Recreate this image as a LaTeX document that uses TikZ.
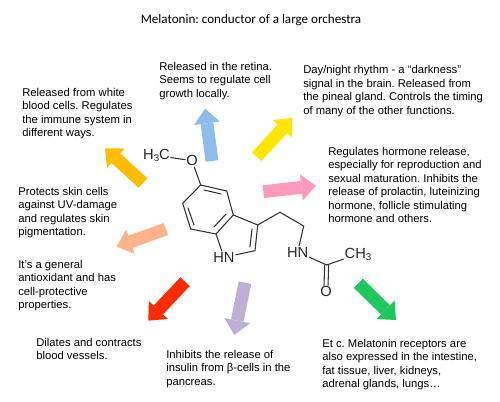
\documentclass[tikz,border=0pt]{standalone}
\usepackage{fontspec}
\usetikzlibrary{arrows.meta}
\setmainfont{Liberation Sans}
\newfontfamily\titlefont{Carlito}
\definecolor{cblue}{HTML}{8DBDE8}
\definecolor{cyellow}{HTML}{FFE600}
\definecolor{corange}{HTML}{FFBC00}
\definecolor{cpink}{HTML}{FF99BE}
\definecolor{cpeach}{HTML}{FFB38A}
\definecolor{cred}{HTML}{FF2A00}
\definecolor{cpurple}{HTML}{BDB0D4}
\definecolor{cgreen}{HTML}{1FC85F}
\newcommand{\subnum}{\raisebox{-1.6pt}{\fontsize{7.3}{8}\selectfont 3}}
\frenchspacing
\begin{document}
\begin{tikzpicture}[x=0.75pt,y=-0.75pt,
  bigarrow/.style={line width=9.6pt,draw=#1,-{Triangle[length=11pt,width=19.5pt,line width=0pt]}},
  bond/.style={line width=0.8pt,draw=black!80,line cap=round},
  lbl/.style={anchor=north west,inner sep=0pt,align=left,font=\fontsize{8.45}{10.05}\selectfont,text=black},
  atom/.style={inner sep=0.6pt,font=\fontsize{11}{12}\selectfont,text=black!85}]
\useasboundingbox (0,0) rectangle (500,402);
\node[font=\titlefont\fontsize{9.8}{12}\selectfont] (title) at (251,20) {Melatonin: conductor of a large orchestra};
% text
\node[lbl] (t1) at (159,62) {Released in the retina.\\Seems to regulate cell\\growth locally.};
\node[lbl] (t2) at (303,65.5) {Day/night rhythm - a “darkness”\\signal in the brain. Released from\\the pineal gland. Controls the timing\\of many of the other functions.};
\node[lbl] (t3) at (22,88) {Released from white\\blood cells. Regulates\\the immune system in\\different ways.};
\node[lbl] (t4) at (328,147) {Regulates hormone release,\\especially for reproduction and\\sexual maturation. Inhibits the\\release of prolactin, luteinizing\\hormone, follicle stimulating\\hormone and others.};
\node[lbl] (t5) at (18,187) {Protects skin cells\\against UV-damage\\and regulates skin\\pigmentation.};
\node[lbl] (t6) at (18,260) {It’s a general\\antioxidant and has\\cell-protective\\properties.};
\node[lbl] (t7) at (36,338) {Dilates and contracts\\blood vessels.};
\node[lbl] (t8) at (166,350) {Inhibits the release of\\insulin from β-cells in the\\pancreas.};
\node[lbl] (t9) at (322,339) {Et c. Melatonin receptors are\\also expressed in the intestine,\\fat tissue, liver, kidneys,\\adrenal glands, lungs…};
% arrows
\coordinate (a1s) at (212,161); \coordinate (a1e) at (205,108.7);
\coordinate (a2s) at (256.7,156.7); \coordinate (a2e) at (292.3,118);
\coordinate (a3s) at (143,183); \coordinate (a3e) at (105,148.3);
\coordinate (a4s) at (263.3,191.7); \coordinate (a4e) at (316,185.7);
\coordinate (a5s) at (166,229); \coordinate (a5e) at (116.7,246.7);
\coordinate (a6s) at (185,281.7); \coordinate (a6e) at (148.3,320.7);
\coordinate (a7s) at (245,282.7); \coordinate (a7e) at (234.3,335);
\coordinate (a8s) at (358.3,283.3); \coordinate (a8e) at (396,320);
\draw[bigarrow=cblue] (a1s)--(a1e);
\draw[bigarrow=cyellow] (a2s)--(a2e);
\draw[bigarrow=corange] (a3s)--(a3e);
\draw[bigarrow=cpink] (a4s)--(a4e);
\draw[bigarrow=cpeach] (a5s)--(a5e);
\draw[bigarrow=cred] (a6s)--(a6e);
\draw[bigarrow=cpurple] (a7s)--(a7e);
\draw[bigarrow=cgreen] (a8s)--(a8e);
% molecule
\node[atom] (me) at (156.5,155.5) {H\subnum C};
\node[atom] (o1) at (192,160.7) {O};
\node[atom] (n1) at (224,257.3) {HN};
\node[atom] (n2) at (297.7,252) {HN};
\node[atom] (o2) at (326,291.7) {O};
\node[atom] (ch3) at (358,254) {CH\subnum};
\coordinate (c5) at (200.7,185); \coordinate (c4) at (226.7,191);
\coordinate (c3a) at (233.3,215); \coordinate (c7a) at (216,234);
\coordinate (c7) at (190.7,229); \coordinate (c6) at (182.7,203.3);
\coordinate (c3) at (257.7,225); \coordinate (c2) at (255,250.7);
\coordinate (p1) at (280,212.3); \coordinate (p2) at (303.7,226);
\coordinate (c8) at (326.7,265);
\draw[bond] (me)--(o1);
\draw[bond] (o1)--(c5)--(c4)--(c3a)--(c7a)--(c7)--(c6)--(c5);
\draw[bond] (c3a)--(c3)--(c2)--(n1)--(c7a);
\draw[bond] (c3)--(p1)--(p2)--(n2);
\draw[bond] (n2)--(c8)--(ch3);
\draw[bond] ([xshift=-1.5pt]c8)--([xshift=-1.5pt]o2.north);
\draw[bond] ([xshift=1.5pt]c8)--([xshift=1.5pt]o2.north);
% inner double bonds
\coordinate (d1a) at (204,190); \coordinate (d1b) at (221,194);
\coordinate (d2a) at (188,208); \coordinate (d2b) at (194,225);
\coordinate (d3a) at (226,214); \coordinate (d3b) at (214,227);
\coordinate (d4a) at (252,229); \coordinate (d4b) at (250,247);
\draw[bond] (d1a)--(d1b);
\draw[bond] (d2a)--(d2b);
\draw[bond] (d3a)--(d3b);
\draw[bond] (d4a)--(d4b);
\end{tikzpicture}
\end{document}
